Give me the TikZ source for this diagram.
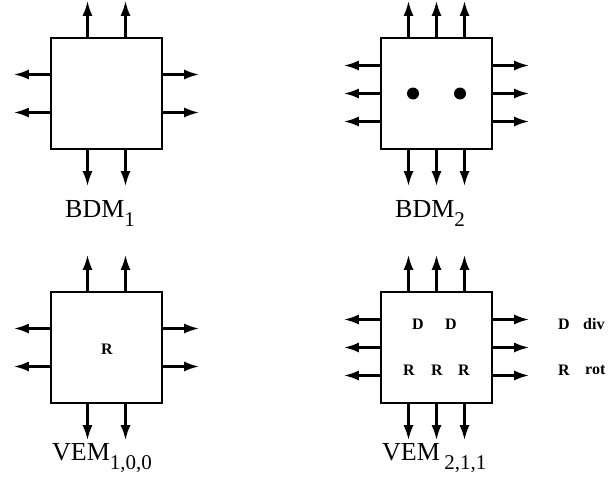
\documentclass[tikz,border=0pt]{standalone}
\usepackage{fontspec}
\setmainfont{Liberation Serif}
\usetikzlibrary{arrows.meta,calc}
\newcommand{\lowidx}[1]{\raisebox{-9pt}{\fontsize{21}{21}\selectfont #1}}

\begin{document}
\begin{tikzpicture}[x=1pt,y=-1pt,
  blk/.style={draw,line width=2.4pt,minimum size=111pt,inner sep=0pt},
  leg/.style={line width=2.4pt,-{Latex[length=15pt,width=10pt]}},
  lab/.style={font=\fontsize{26}{26}\selectfont,anchor=base west,inner sep=0pt},
  sym/.style={font=\fontsize{16}{16}\selectfont\bfseries,inner sep=0pt},
  dot/.style={circle,fill,minimum size=12pt,inner sep=0pt}]
\useasboundingbox (0,0) rectangle (612,487);
\node[blk] (bdmA) at (106.5,93.5) {};
\node[blk] (bdmB) at (436.5,93.5) {};
\node[blk] (vemA) at (106.5,347.5) {};
\node[blk] (vemB) at (436.5,347.5) {};
% two legs per side
\foreach \b in {bdmA,vemA}
  \foreach \d in {-19,19}{
    \draw[leg] ($(\b.north)+(\d,0)$) -- ++(0,-36);
    \draw[leg] ($(\b.south)+(\d,0)$) -- ++(0,36);
    \draw[leg] ($(\b.west)+(0,\d)$) -- ++(-36,0);
    \draw[leg] ($(\b.east)+(0,\d)$) -- ++(36,0);
  }
% three legs per side
\foreach \b in {bdmB,vemB}
  \foreach \d in {-28,0,28}{
    \draw[leg] ($(\b.north)+(\d,0)$) -- ++(0,-36);
    \draw[leg] ($(\b.south)+(\d,0)$) -- ++(0,36);
    \draw[leg] ($(\b.west)+(0,\d)$) -- ++(-36,0);
    \draw[leg] ($(\b.east)+(0,\d)$) -- ++(36,0);
  }
\node[dot] (ptL) at ($(bdmB.center)+(-23.5,0)$) {};
\node[dot] (ptR) at ($(bdmB.center)+(23.5,0)$) {};
\node[sym] (rA) at (107,349) {R};
\node[sym] (dA) at (418,324) {D};
\node[sym] (dB) at (451,324) {D};
\node[sym] (rB) at (409,370) {R};
\node[sym] (rC) at (437,370) {R};
\node[sym] (rD) at (464,370) {R};
\node[sym] (keyD) at (564,324) {D};
\node[sym,anchor=west] (keyDiv) at (583,324) {div};
\node[sym] (keyR) at (564,370) {R};
\node[sym,anchor=west] (keyRot) at (585,370) {rot};
\node[lab] (labA) at (65,217) {BDM\lowidx{1}};
\node[lab] (labB) at (395,217) {BDM\lowidx{2}};
\node[lab] (labC) at (52,460) {VEM\lowidx{1,0,0}};
\node[lab] (labD) at (382,460) {VEM\,\lowidx{2,1,1}};
\end{tikzpicture}
\end{document}
